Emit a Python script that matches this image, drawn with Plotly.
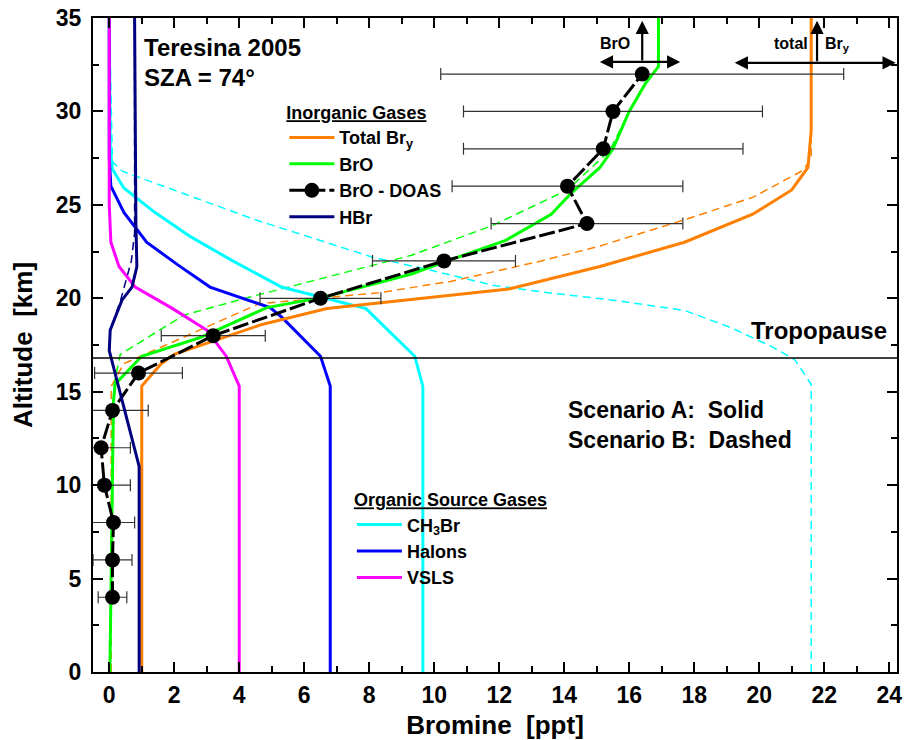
import plotly.graph_objects as go

# ---------------- data ----------------
# Total Bry
bry_a_x = [1.0, 1.0, 1.6, 2.0, 4.7, 6.7, 12.3, 15.1, 17.7, 19.8, 21.0, 21.5, 21.6, 21.6]
bry_a_y = [0, 15.3, 16.5, 17.0, 18.6, 19.45, 20.5, 21.7, 23.0, 24.5, 25.8, 27.0, 29.0, 35]
bry_b_x = [0.06, 0.06, 0.45, 4.6, 8.3, 10.5, 13.3, 15.1, 17.7, 19.8, 21.35, 21.6, 21.6]
bry_b_y = [0, 15.3, 16.5, 19.7, 20.3, 20.9, 22.0, 22.8, 24.2, 25.4, 26.85, 27.5, 35]
# BrO model
bro_a_x = [0.02, 0.13, 0.18, 1.0, 2.8, 4.85, 6.6, 9.3, 10.4, 12.2, 13.6, 14.2, 15.1, 15.5, 16.0, 16.5, 16.9, 16.9]
bro_a_y = [0, 14.5, 15.4, 16.9, 17.9, 19.5, 20.06, 21.3, 22.0, 23.1, 24.5, 25.6, 27.0, 28.0, 30.0, 31.5, 32.4, 35]
bro_b_x = [0.02, 0.13, 0.15, 0.34, 2.3, 4.4, 9.3, 11.8, 14.1, 15.4, 16.0, 16.5, 16.9, 16.9]
bro_b_y = [0, 14.5, 15.4, 17.0, 19.1, 20.1, 22.3, 23.9, 25.8, 27.9, 30.0, 31.5, 32.4, 35]
# BrO DOAS measurements
doas_x = [0.1, 0.1, 0.13, -0.15, -0.25, 0.1, 0.9, 3.2, 6.5, 10.3, 14.7, 14.1, 15.2, 15.5, 16.4]
doas_y = [4, 6, 8, 10, 12, 14, 16, 18, 20, 22, 24, 26, 28, 30, 32]
doas_err = [0.44, 0.6, 0.65, 0.8, 0.9, 1.1, 1.35, 1.6, 1.86, 2.2, 2.95, 3.55, 4.3, 4.6, 6.2]
# HBr
hbr_a_x = [0.92, 0.92, 0.0, 0.03, 0.39, 0.7, 0.85, 0.82, 0.78]
hbr_a_y = [0, 11.0, 17.2, 18.3, 19.9, 20.6, 21.7, 24.0, 35]
hbr_b_x = [0.92, 0.92, 0.0, 0.03, 0.35, 0.5, 0.68, 0.78, 0.78]
hbr_b_y = [0, 11.0, 17.2, 18.3, 19.9, 20.8, 22.0, 23.5, 35]
# CH3Br
ch3_a_x = [9.65, 9.65, 9.4, 8.3, 7.9, 5.3, 3.8, 2.5, 1.4, 0.45, 0.1, 0.03, 0.0]
ch3_a_y = [0, 15.3, 16.9, 18.8, 19.45, 20.6, 22.0, 23.3, 24.6, 25.9, 26.9, 28.0, 35]
ch3_b_x = [21.6, 21.6, 21.1, 20.4, 19.1, 17.7, 15.5, 13.5, 11.8, 9.9, 8.1, 4.5, 0.4, 0.1, 0.0]
ch3_b_y = [0, 15.4, 16.7, 17.4, 18.45, 19.35, 19.9, 20.3, 20.7, 21.5, 22.2, 24.2, 26.8, 27.3, 35]
# Halons
hal_a_x = [6.8, 6.8, 6.5, 5.3, 4.95, 4.1, 3.1, 2.1, 1.15, 0.45, 0.05, 0.0, 0.0]
hal_a_y = [0, 15.3, 16.9, 19.0, 19.5, 20.0, 20.6, 21.8, 23.0, 24.6, 26.0, 27.5, 35]
# VSLS
vsls_a_x = [4.0, 4.0, 3.6, 3.0, 1.9, 0.8, 0.3, 0.05, 0.0, 0.0]
vsls_a_y = [0, 15.3, 16.9, 18.3, 19.5, 20.6, 21.7, 23.0, 25.0, 35]

tropopause = 16.8
x_ticks = list(range(0, 25, 2))
y_ticks = list(range(0, 36, 5))

# ---------------- figure ----------------
FONT = "Liberation Sans, Arial, sans-serif"
ORANGE = "#FF8000"
GREEN = "#00FF00"
NAVY = "#000080"
CYAN = "#00FFFF"
BLUE = "#0000FF"
MAGENTA = "#FF00FF"

fig = go.Figure()

def solid(x, y, color, name, legend):
    fig.add_trace(go.Scatter(x=x, y=y, mode="lines", name=name, legend=legend,
                             line=dict(color=color, width=3)))

def dashed(x, y, color):
    fig.add_trace(go.Scatter(x=x, y=y, mode="lines", showlegend=False,
                             line=dict(color=color, width=1.5, dash="8px,5px")))

# dashed (scenario B) first, so solid on top
dashed(ch3_b_x, ch3_b_y, CYAN)
dashed(hbr_b_x, hbr_b_y, NAVY)
dashed(bry_b_x, bry_b_y, ORANGE)
dashed(bro_b_x, bro_b_y, GREEN)

# organic
solid(ch3_a_x, ch3_a_y, CYAN, "CH<sub>3</sub>Br", "legend2")
solid(hal_a_x, hal_a_y, BLUE, "Halons", "legend2")
solid(vsls_a_x, vsls_a_y, MAGENTA, "VSLS", "legend2")

# inorganic
solid(bry_a_x, bry_a_y, ORANGE, "Total Br<sub>y</sub>", "legend")
solid(bro_a_x, bro_a_y, GREEN, "BrO", "legend")
fig.add_trace(go.Scatter(
    x=doas_x, y=doas_y, mode="lines+markers", name="BrO - DOAS", legend="legend",
    line=dict(color="black", width=3, dash="16px,4px"),
    marker=dict(color="black", size=15),
    error_x=dict(type="data", array=doas_err, symmetric=True, color="#333333",
                 thickness=1.2, width=6)))
solid(hbr_a_x, hbr_a_y, NAVY, "HBr", "legend")

# tropopause line
fig.add_shape(type="line", xref="paper", yref="y", x0=0, x1=1,
              y0=tropopause, y1=tropopause, line=dict(color="black", width=1.5))

# text annotations
def txt(x, y, s, size, xanchor="left"):
    fig.add_annotation(x=x, y=y, xref="x", yref="y", text=s, showarrow=False,
                       xanchor=xanchor, yanchor="middle",
                       font=dict(family=FONT, size=size, color="black", weight="bold"))

txt(1.02, 33.4, "Teresina 2005", 24)
txt(1.02, 31.8, "SZA = 74°", 24)
txt(24.0, 18.3, "Tropopause", 24, "right")
txt(14.06, 14.0, "Scenario A:\u00a0\u00a0Solid", 23)
txt(14.06, 12.4, "Scenario B:\u00a0\u00a0Dashed", 23)
txt(15.55, 33.65, "BrO", 16, "center")
txt(21.55, 33.65, "total", 16, "right")
txt(21.95, 33.6, "Br<sub>y</sub>", 16, "left")

def arrow(x0, y0, x1, y1, both=False):
    fig.add_annotation(x=x1, y=y1, ax=x0, ay=y0, xref="x", yref="y", axref="x", ayref="y",
                       text="", showarrow=True, arrowhead=2, arrowsize=1.2, arrowwidth=2.2,
                       arrowcolor="black", arrowside="end+start" if both else "end",
                       startarrowhead=2, startarrowsize=1.2)

arrow(16.4, 32.65, 16.4, 34.85)
arrow(15.05, 32.65, 17.57, 32.65, both=True)
arrow(21.78, 32.6, 21.78, 34.85)
arrow(19.2, 32.6, 24.2, 32.6, both=True)

axis_common = dict(showline=True, linecolor="black", linewidth=2, mirror="ticks",
                   ticks="inside", tickcolor="black", tickwidth=2, ticklen=10,
                   showgrid=False, zeroline=False, automargin=False,
                   ticklabeloverflow="allow",
                   tickfont=dict(family=FONT, size=23, color="black", weight="bold"))

fig.update_xaxes(range=[-0.5, 24.24], tickvals=x_ticks, **axis_common, ticklabelstandoff=1,
                 minor=dict(ticks="inside", dtick=1, tick0=0, ticklen=6, tickwidth=2, tickcolor="black"),
                 title=dict(text="Bromine\u00a0\u00a0[ppt]", standoff=10,
                            font=dict(family=FONT, size=26, color="black", weight="bold")))
fig.update_yaxes(range=[0, 35], tickvals=y_ticks, **axis_common, ticklabelstandoff=5,
                 minor=dict(ticks="inside", dtick=2.5, tick0=0, ticklen=6, tickwidth=2, tickcolor="black"),
                 title=dict(text="Altitude\u00a0\u00a0[km]", standoff=16,
                            font=dict(family=FONT, size=26, color="black", weight="bold")))

legfont = dict(family=FONT, size=18, color="black", weight="bold")
fig.update_layout(
    width=912, height=740,
    margin=dict(l=93, r=15, t=18, b=68, autoexpand=False),
    plot_bgcolor="white", paper_bgcolor="white",
    font=dict(family=FONT),
    legend=dict(x=0.238, y=0.881, xanchor="left", yanchor="top", bgcolor="rgba(0,0,0,0)",
                font=legfont, traceorder="normal", itemwidth=45,
                title=dict(text="<u>Inorganic Gases</u>", font=legfont)),
    legend2=dict(x=0.322, y=0.289, xanchor="left", yanchor="top", bgcolor="rgba(0,0,0,0)",
                 font=legfont, traceorder="normal", itemwidth=45,
                 title=dict(text="<u>Organic Source Gases</u>", font=legfont)),
)

# remove the browser's default 8px page margin so the figure fills the window exactly
fig.write_html("out.html", config={"displayModeBar": False},
               post_script="document.body.style.margin='0px';document.body.style.overflow='hidden';")
